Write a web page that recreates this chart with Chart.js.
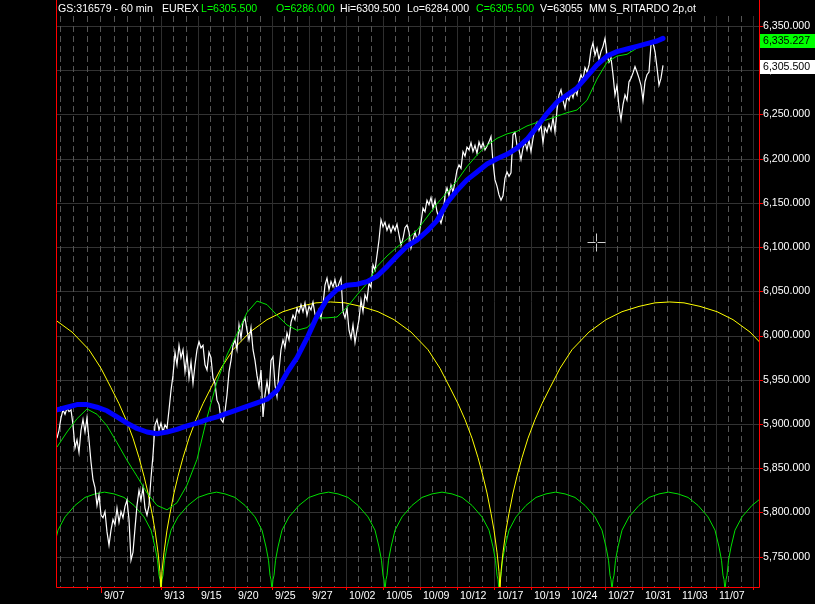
<!DOCTYPE html>
<html>
<head>
<meta charset="utf-8">
<title>GS:316579 - 60 min</title>
<script src="https://cdn.jsdelivr.net/npm/chart.js@4.4.1/dist/chart.umd.min.js"></script>
<style>
  html, body { margin: 0; padding: 0; background: #000; }
  canvas { display: block; }
</style>
</head>
<body>
<canvas id="cycleChart" width="815" height="604"></canvas>
<script>
// x unit = one price sample of the 60 min series
const xTickUnits = [15, 22, 52, 70.5, 89, 107.5, 126, 144.5, 163, 181.5, 200, 218.5, 237, 255.5, 274, 292.5, 311, 329.5, 348];
const xTickLabels = ['', '9/07', '9/13', '9/15', '9/20', '9/25', '9/27', '10/02', '10/05', '10/09', '10/12', '10/17', '10/19', '10/24', '10/27', '10/31', '11/03', '11/07', ''];
const earlyDayLines = [1.5, 8, 15, 21.5, 28.5, 35, 41.5, 48];
const yTickValues = [5750, 5800, 5850, 5900, 5950, 6000, 6050, 6100, 6150, 6200, 6250, 6300, 6350];

const priceValues = [
  5884, 5893, 5907, 5916, 5911, 5918, 5914, 5916, 5899, 5873,
  5882, 5868, 5893, 5905, 5891, 5907, 5882, 5857, 5837, 5828,
  5808, 5820, 5797, 5794, 5801, 5778, 5763, 5780, 5792, 5786,
  5805, 5789, 5801, 5794, 5807, 5814, 5792, 5746, 5755, 5782,
  5808, 5825, 5814, 5828, 5805, 5797, 5808, 5839, 5865, 5899,
  5905, 5893, 5901, 5891, 5899, 5895, 5916, 5938, 5955, 5981,
  5967, 5989, 5975, 5984, 5959, 5978, 5952, 5970, 5946, 5967,
  5984, 5993, 5986, 5989, 5967, 5961, 5981, 5975, 5952, 5946,
  5927, 5922, 5905, 5902, 5914, 5933, 5959, 5972, 5989, 5995,
  5984, 6012, 5997, 6015, 6020, 6006, 5995, 6009, 5984, 5972,
  5955, 5942, 5961, 5908, 5933, 5948, 5933, 5972, 5976, 5944,
  5931, 5961, 5984, 5995, 5987, 6003, 5995, 6015, 6023, 6018,
  6031, 6026, 6035, 6027, 6037, 6023, 6033, 6029, 6038, 6024,
  6020, 6029, 6020, 6035, 6057, 6065, 6052, 6061, 6055, 6063,
  6052, 6059, 6065, 6027, 6020, 6031, 6006, 5997, 6012, 5992,
  6006, 6018, 6040, 6027, 6046, 6040, 6059, 6055, 6080, 6074,
  6091, 6108, 6131, 6123, 6128, 6119, 6125, 6117, 6124, 6119,
  6126, 6114, 6102, 6110, 6122, 6125, 6117, 6099, 6108, 6117,
  6108, 6114, 6128, 6144, 6140, 6153, 6148, 6156, 6144, 6153,
  6140, 6133, 6127, 6136, 6159, 6167, 6158, 6170, 6162, 6174,
  6187, 6193, 6189, 6208, 6203, 6213, 6210, 6218, 6208, 6215,
  6206, 6219, 6212, 6218, 6210, 6214, 6219, 6225, 6196, 6176,
  6169, 6159, 6153, 6158, 6178, 6185, 6180, 6184, 6227, 6230,
  6215, 6210, 6199, 6212, 6219, 6210, 6221, 6208, 6223, 6235,
  6241, 6232, 6238, 6218, 6235, 6230, 6239, 6232, 6246, 6230,
  6255, 6272, 6278, 6266, 6257, 6270, 6266, 6275, 6269, 6278,
  6272, 6287, 6295, 6289, 6303, 6298, 6306, 6323, 6331, 6317,
  6325, 6312, 6321, 6327, 6336, 6317, 6309, 6314, 6295, 6272,
  6283, 6258, 6244, 6261, 6272, 6266, 6287, 6291, 6297, 6304,
  6298, 6291, 6283, 6266, 6287, 6295, 6298, 6329, 6331, 6321,
  6303, 6283, 6291, 6305.5
];

const maUnits = [
  0, 5, 10, 15, 20, 25, 30, 35, 40, 45, 50, 55, 60, 65, 70, 75, 80, 85, 90, 95,
  100, 105, 110, 115, 120, 125, 130, 135, 140, 145, 150, 155, 160, 165, 170, 175, 180, 185, 190, 195,
  200, 205, 210, 215, 220, 225, 230, 235, 240, 245, 250, 255, 260, 265, 270, 275, 280, 285, 290, 295,
  300, 303
];
// thin green average
const fastMaValues = [
  5874, 5891, 5906, 5917, 5911, 5898, 5879, 5859, 5841, 5822,
  5808, 5803, 5811, 5831, 5860, 5907, 5948, 5978, 6002, 6026,
  6039, 6035, 6023, 6012, 6006, 6009, 6020, 6020, 6021, 6032,
  6046, 6059, 6078, 6090, 6100, 6109, 6119, 6134, 6149, 6162,
  6175, 6191, 6204, 6215, 6223, 6228, 6231, 6237, 6241, 6244,
  6248, 6252, 6255, 6266, 6290, 6309, 6316, 6318, 6325, 6330,
  6332, 6335.227
];
// thick blue average
const slowMaValues = [
  5916, 5919, 5922, 5922, 5919, 5915, 5908, 5901, 5895, 5891,
  5889, 5891, 5894, 5898, 5901, 5905, 5908, 5912, 5916, 5920,
  5924, 5928, 5938, 5958, 5975, 5997, 6022, 6041, 6052, 6057,
  6058, 6061, 6067, 6078, 6090, 6101, 6108, 6118, 6130, 6150,
  6164, 6176, 6185, 6194, 6200, 6205, 6212, 6222, 6236, 6251,
  6264, 6272, 6280, 6293, 6306, 6316, 6321, 6324, 6327, 6330,
  6333, 6336
];

// cycle arches: cusp positions, and the arch read as distance from a cusp -> value
const yellowCusps = [-117.5, 52, 221.5, 391];
const yellowOffsets = [0, 0.5, 1.5, 3, 4.5, 6.5, 8.5, 11, 14, 17.5, 21, 25, 30, 36, 44.5, 53, 61, 69.5, 77.5];
const yellowValues = [5712, 5733, 5755, 5780, 5799, 5822, 5841, 5862, 5884, 5905, 5923, 5941, 5963, 5984, 6004, 6018, 6027, 6033, 6037];
const yellowTop = 6038;

const greenCusps = [-4.5, 52, 107.5, 164, 221, 277.5, 334, 390.5];
const greenOffsets = [0, 0.5, 1, 1.75, 3, 5, 8.5, 13.5, 18.5, 23.5];
const greenValues = [5712, 5724, 5729, 5746, 5761, 5780, 5795, 5808, 5817, 5821];
const greenTop = 5823;

const headerParts = [
  ['GS:316579 - 60 min', '#ffffff'],
  ['EUREX', '#ffffff'],
  ['L=6305.500', '#00ff00'],
  ['O=6286.000', '#00ff00'],
  ['Hi=6309.500', '#ffffff'],
  ['Lo=6284.000', '#ffffff'],
  ['C=6305.500', '#00ff00'],
  ['V=63055', '#ffffff'],
  ['MM S_RITARDO 2p,ot', '#ffffff']
];
const cursorAt = { x: 269.5, y: 6106 };

function fmtPrice(v) {
  const parts = v.toFixed(3).split('.');
  return parts[0].replace(/\B(?=(\d{3})+$)/g, ',') + '.' + parts[1];
}

function archPoints(cusps, offsets, values, top) {
  const pts = [];
  for (let k = 0; k < cusps.length - 1; k++) {
    const a = cusps[k], b = cusps[k + 1], mid = (a + b) / 2;
    offsets.forEach((o, i) => { if (a + o < mid) pts.push({ x: a + o, y: values[i] }); });
    pts.push({ x: mid, y: top });
    for (let i = offsets.length - 1; i >= 0; i--) {
      if (b - offsets[i] > mid) pts.push({ x: b - offsets[i], y: values[i] });
    }
  }
  return pts;
}

const FAMILY = 'Arial, "Liberation Sans", sans-serif';
const FONT_SIZE = 10.6;
const RED = '#ff0000';

const chartFrame = {
  id: 'chartFrame',
  beforeDraw(chart) {
    const ctx = chart.ctx;
    ctx.save();
    ctx.fillStyle = '#000000';
    ctx.fillRect(0, 0, chart.width, chart.height);
    ctx.restore();
  },
  beforeDatasetsDraw(chart) {
    const { ctx, chartArea: area, scales: { x, y } } = chart;
    ctx.save();
    ctx.lineWidth = 1;

    // horizontal price lines
    ctx.strokeStyle = '#333333';
    yTickValues.forEach(v => {
      const py = Math.round(y.getPixelForValue(v)) + 0.5;
      ctx.beginPath(); ctx.moveTo(area.left, py); ctx.lineTo(area.right, py); ctx.stroke();
    });

    // dashed day lines
    const dashed = earlyDayLines.slice();
    const major = xTickUnits.filter(u => u >= 52);
    for (let i = 0; i < major.length - 1; i++) {
      const step = (major[i + 1] - major[i]) / 3;
      dashed.push(major[i] + step, major[i] + 2 * step);
    }
    ctx.strokeStyle = '#555555';
    ctx.setLineDash([6, 4]);
    dashed.forEach(u => {
      const px = Math.round(x.getPixelForValue(u)) + 0.5;
      ctx.beginPath(); ctx.moveTo(px, 16); ctx.lineTo(px, area.bottom); ctx.stroke();
    });
    ctx.setLineDash([]);

    // solid lines at labelled ticks
    ctx.strokeStyle = '#2e2e2e';
    major.forEach(u => {
      const px = Math.round(x.getPixelForValue(u)) + 0.5;
      ctx.beginPath(); ctx.moveTo(px, 16); ctx.lineTo(px, area.bottom); ctx.stroke();
    });
    ctx.restore();
  },
  afterDraw(chart) {
    const { ctx, chartArea: area, scales: { x, y } } = chart;
    ctx.save();
    ctx.lineWidth = 1;
    ctx.strokeStyle = RED;

    // red frame
    ctx.beginPath();
    ctx.moveTo(area.left - 0.5, 0); ctx.lineTo(area.left - 0.5, area.bottom + 0.5);
    ctx.lineTo(area.right + 0.5, area.bottom + 0.5); ctx.lineTo(area.right + 0.5, 0);
    ctx.stroke();

    // tick marks
    yTickValues.forEach(v => {
      const py = Math.round(y.getPixelForValue(v)) + 0.5;
      ctx.beginPath(); ctx.moveTo(area.right, py); ctx.lineTo(area.right + 4, py); ctx.stroke();
    });
    xTickUnits.forEach((u, i) => {
      const px = Math.round(x.getPixelForValue(u)) + 0.5;
      const len = i === 1 ? 6 : 3; // the first dated tick is drawn longer
      ctx.beginPath(); ctx.moveTo(px, area.bottom); ctx.lineTo(px, area.bottom + len); ctx.stroke();
    });

    // header
    ctx.font = FONT_SIZE + 'px ' + FAMILY;
    ctx.textBaseline = 'alphabetic';
    ctx.textAlign = 'left';
    const headerX = [58, 162, 201, 276, 340, 407, 476, 540, 589];
    headerParts.forEach((p, i) => {
      ctx.fillStyle = p[1];
      ctx.fillText(p[0], headerX[i], 12);
    });

    // last value boxes
    const boxes = [
      { v: fastMaValues[fastMaValues.length - 1], bg: '#00ff00', fg: '#000000' },
      { v: priceValues[priceValues.length - 1], bg: '#ffffff', fg: '#000000' }
    ];
    ctx.textBaseline = 'middle';
    boxes.forEach(b => {
      const cy = Math.round(y.getPixelForValue(b.v) + 1.5);
      ctx.fillStyle = b.bg;
      ctx.fillRect(area.right + 1, cy - 7, chart.width - area.right - 1, 14);
      ctx.fillStyle = b.fg;
      ctx.fillText(fmtPrice(b.v), area.right + 4, cy + 0.5);
    });

    // mouse cross
    const cx = Math.round(x.getPixelForValue(cursorAt.x)) + 0.5;
    const cy = Math.round(y.getPixelForValue(cursorAt.y)) + 0.5;
    ctx.strokeStyle = '#d0d0d0';
    ctx.beginPath();
    ctx.moveTo(cx - 9, cy); ctx.lineTo(cx - 1, cy);
    ctx.moveTo(cx + 1, cy); ctx.lineTo(cx + 9, cy);
    ctx.moveTo(cx, cy - 9); ctx.lineTo(cx, cy - 1);
    ctx.moveTo(cx, cy + 1); ctx.lineTo(cx, cy + 9);
    ctx.stroke();
    ctx.restore();
  }
};

const lineStyle = { pointRadius: 0, pointHoverRadius: 0, tension: 0, fill: false };

new Chart(document.getElementById('cycleChart'), {
  type: 'line',
  data: {
    datasets: [
      Object.assign({
        label: 'slow average',
        data: maUnits.map((u, i) => ({ x: u, y: slowMaValues[i] })),
        borderColor: '#0000ff', borderWidth: 5, borderCapStyle: 'round', borderJoinStyle: 'round'
      }, lineStyle),
      Object.assign({
        label: 'fast average',
        data: maUnits.map((u, i) => ({ x: u, y: fastMaValues[i] })),
        borderColor: '#00e000', borderWidth: 1
      }, lineStyle),
      Object.assign({
        label: 'price',
        data: priceValues.map((v, i) => ({ x: i, y: v })),
        borderColor: '#ffffff', borderWidth: 1.2
      }, lineStyle),
      Object.assign({
        label: 'long cycle',
        data: archPoints(yellowCusps, yellowOffsets, yellowValues, yellowTop),
        borderColor: '#ffff00', borderWidth: 1
      }, lineStyle),
      Object.assign({
        label: 'short cycle',
        data: archPoints(greenCusps, greenOffsets, greenValues, greenTop),
        borderColor: '#00e000', borderWidth: 1
      }, lineStyle)
    ]
  },
  options: {
    responsive: false,
    animation: false,
    devicePixelRatio: 1,
    layout: { padding: { left: 57, top: 14, right: 0, bottom: 0 } },
    plugins: { legend: { display: false }, tooltip: { enabled: false } },
    events: [],
    scales: {
      x: {
        type: 'linear',
        min: 0,
        max: 351,
        afterBuildTicks: scale => { scale.ticks = xTickUnits.map(v => ({ value: v })); },
        afterFit: scale => { scale.height = 17; },
        grid: { display: false, drawTicks: false },
        border: { display: false },
        ticks: {
          autoSkip: false, maxRotation: 0, minRotation: 0,
          align: 'start', padding: 3,
          color: '#ffffff', font: { family: FAMILY, size: FONT_SIZE },
          callback: (value, index) => xTickLabels[index] ? ' ' + xTickLabels[index] : ''
        }
      },
      y: {
        position: 'right',
        min: 5715.74,
        max: 6363.57,
        afterBuildTicks: scale => { scale.ticks = yTickValues.map(v => ({ value: v })); },
        afterFit: scale => { scale.width = 56; },
        grid: { display: false, drawTicks: false },
        border: { display: false },
        ticks: {
          padding: 4,
          color: '#ffffff', font: { family: FAMILY, size: FONT_SIZE },
          callback: value => fmtPrice(value)
        }
      }
    }
  },
  plugins: [chartFrame]
});
</script>
</body>
</html>
